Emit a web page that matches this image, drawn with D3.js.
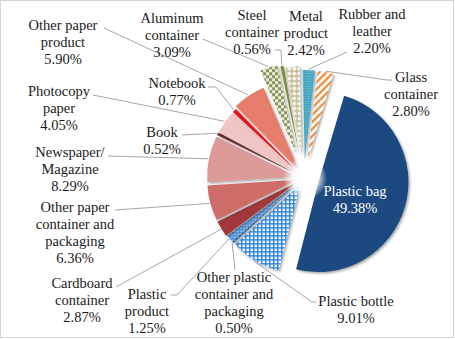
<!DOCTYPE html>
<html>
<head>
<meta charset="utf-8">
<title></title>
<style>
body { margin: 0; background: #fff; }
path.leader {
  fill: none;
  stroke: #a6a6a6;
  stroke-width: 1px;
}
</style>
<script src="https://cdn.jsdelivr.net/npm/d3@7"></script>
</head>
<body>
<script>

// clockwise from 12 o'clock
var categories = ["Glass container", "Plastic bag", "Plastic bottle",
  "Other plastic container and packaging", "Plastic product", "Cardboard container",
  "Other paper container and packaging", "Newspaper/ Magazine", "Book",
  "Photocopy paper", "Notebook", "Other paper product", "Aluminum container",
  "Steel container", "Metal product", "Rubber and leather"];

var values = [2.80, 49.38, 9.01, 0.50, 1.25, 2.87, 6.36, 8.29, 0.52, 4.05, 0.77,
  5.90, 3.09, 0.56, 2.42, 2.20];

var labelLines = [["Glass", "container"], ["Plastic bag"], ["Plastic bottle"],
  ["Other plastic", "container and", "packaging"], ["Plastic", "product"],
  ["Cardboard", "container"], ["Other paper", "container and", "packaging"],
  ["Newspaper/", "Magazine"], ["Book"], ["Photocopy", "paper"], ["Notebook"],
  ["Other paper", "product"], ["Aluminum", "container"], ["Steel", "container"],
  ["Metal", "product"], ["Rubber and", "leather"]];

var width = 455,
    height = 339,
    cx = 304, cy = 178,
    radius = 90,
    lineH = 17;

// how far each slice is pulled out
var explode = {
  "Glass container": 18, "Plastic bag": 15, "Plastic bottle": 6,
  "Other plastic container and packaging": 6, "Plastic product": 6,
  "Cardboard container": 7, "Other paper container and packaging": 7,
  "Newspaper/ Magazine": 7, "Book": 7, "Photocopy paper": 7, "Notebook": 7,
  "Other paper product": 9, "Aluminum container": 26, "Steel container": 24,
  "Metal product": 22, "Rubber and leather": 18
};

// label block: centre x, first baseline, leader start
var labelLayout = {
  "Glass container": {x: 411, y: 82, lead: [392, 80], stub: -5},
  "Plastic bag": {x: 355, y: 196, white: true},
  "Plastic bottle": {x: 356, y: 306, lead: [316, 302], stub: -4},
  "Other plastic container and packaging": {x: 234, y: 282, lead: [235, 270], stub: 0},
  "Plastic product": {x: 147, y: 299, lead: [171, 295], stub: 6},
  "Cardboard container": {x: 82, y: 288, lead: [116, 287], stub: 0},
  "Other paper container and packaging": {x: 75, y: 212, lead: [115, 210], stub: 0},
  "Newspaper/ Magazine": {x: 70, y: 157, lead: [108, 156], stub: 0},
  "Book": {x: 162, y: 137, lead: [182, 135], stub: 0},
  "Photocopy paper": {x: 59, y: 96, lead: [93, 95], stub: 0},
  "Notebook": {x: 177, y: 88, lead: [208, 87], stub: 8},
  "Other paper product": {x: 63, y: 30, lead: [104, 28], stub: 0},
  "Aluminum container": {x: 172, y: 23, lead: [203, 39], stub: 0},
  "Steel container": {x: 252, y: 20, lead: [275, 50], stub: 6},
  "Metal product": {x: 306, y: 21},
  "Rubber and leather": {x: 372, y: 19, lead: [347, 52], stub: 0}
};

var data = categories.map(function(c, i) {
  return {name: c, value: values[i], lines: labelLines[i]};
});

var svg = d3.select("body").append("svg")
    .attr("width", width)
    .attr("height", height);

var defs = svg.append("defs");

function makePattern(id, w, h, bg, transform) {
  var p = defs.append("pattern")
      .attr("id", id)
      .attr("patternUnits", "userSpaceOnUse")
      .attr("width", w)
      .attr("height", h);
  if (transform) p.attr("patternTransform", transform);
  p.append("rect").attr("width", w).attr("height", h).attr("fill", bg);
  return p;
}

// plastic bottle: blue grid
makePattern("p-grid", 4, 4, "#ffffff")
  .append("path")
  .attr("d", "M0,0.75H4M0.75,0V4")
  .attr("stroke", "#2f86dd")
  .attr("stroke-width", 1.5);

// plastic product / other plastic: dotted blue
makePattern("p-dots", 3, 3, "#4d93d6")
  .append("circle").attr("cx", 1.5).attr("cy", 1.5).attr("r", 0.7).attr("fill", "#cfe3f6");

// aluminum: green checker
var chk = makePattern("p-check", 6, 6, "#eeeddf");
chk.append("rect").attr("width", 3).attr("height", 3).attr("fill", "#869556");
chk.append("rect").attr("x", 3).attr("y", 3).attr("width", 3).attr("height", 3).attr("fill", "#869556");

// metal product: beige lattice
makePattern("p-lattice", 5, 5, "#c3bc96")
  .append("circle").attr("cx", 2.5).attr("cy", 2.5).attr("r", 2).attr("fill", "#f7f5ec");

// rubber: teal speckle
makePattern("p-teal", 2.5, 2.5, "#45a6c2")
  .append("circle").attr("cx", 1.25).attr("cy", 1.25).attr("r", 0.45).attr("fill", "#a9dbe8");

// glass: orange diagonal stripes
makePattern("p-stripe", 5, 5, "#ffffff", "rotate(45)")
  .append("rect").attr("width", 2.2).attr("height", 5).attr("fill", "#ef8a34");

var fills = {
  "Glass container": "url(#p-stripe)",
  "Plastic bag": "#1d4a80",
  "Plastic bottle": "url(#p-grid)",
  "Other plastic container and packaging": "url(#p-dots)",
  "Plastic product": "url(#p-dots)",
  "Cardboard container": "#a2383a",
  "Other paper container and packaging": "#cd6c69",
  "Newspaper/ Magazine": "#dc9a98",
  "Book": "#7a2a2c",
  "Photocopy paper": "#f0c6c5",
  "Notebook": "#e8161a",
  "Other paper product": "#e57d6b",
  "Aluminum container": "url(#p-check)",
  "Steel container": "#7f8c3f",
  "Metal product": "url(#p-lattice)",
  "Rubber and leather": "url(#p-teal)"
};

var shadow = defs.append("filter")
    .attr("id", "shadow")
    .attr("x", "-20%").attr("y", "-20%")
    .attr("width", "140%").attr("height", "140%");
shadow.append("feDropShadow")
    .attr("dx", 1.5).attr("dy", 1.5)
    .attr("stdDeviation", 1.3)
    .attr("flood-color", "#000")
    .attr("flood-opacity", 0.35);

var glow = defs.append("radialGradient").attr("id", "glow");
glow.append("stop").attr("offset", "0%").attr("stop-color", "#fff").attr("stop-opacity", 1);
glow.append("stop").attr("offset", "55%").attr("stop-color", "#fff").attr("stop-opacity", 0.9);
glow.append("stop").attr("offset", "100%").attr("stop-color", "#fff").attr("stop-opacity", 0);

svg.append("rect")
    .attr("x", 0.5).attr("y", 0.5)
    .attr("width", width - 2).attr("height", height - 2)
    .attr("fill", "#fff")
    .attr("stroke", "#d4d4d4");

var start = 6.5 * Math.PI / 180;

var pie = d3.pie()
    .sort(null)
    .value(function(d) { return d.value; })
    .startAngle(start)
    .endAngle(start + 2 * Math.PI);

var arc = d3.arc()
    .innerRadius(0)
    .outerRadius(radius);

var arcs = pie(data);

function apex(d) {
  var mid = (d.startAngle + d.endAngle) / 2,
      e = explode[d.data.name];
  return [cx + e * Math.sin(mid), cy - e * Math.cos(mid)];
}

// leader lines
var leaderData = arcs.filter(function(d) { return labelLayout[d.data.name].lead; });

svg.append("g")
  .selectAll("path")
  .data(leaderData)
  .enter()
  .append("path")
  .attr("class", "leader")
  .attr("d", function(d) {
    var lay = labelLayout[d.data.name],
        mid = (d.startAngle + d.endAngle) / 2,
        a = apex(d),
        end = [a[0] + (radius + 1) * Math.sin(mid), a[1] - (radius + 1) * Math.cos(mid)];
    return d3.line()([lay.lead, [lay.lead[0] + lay.stub, lay.lead[1]], end]);
  });

var slice = svg.append("g")
  .selectAll("path")
  .data(arcs)
  .enter()
  .append("path")
  .attr("transform", function(d) {
    var a = apex(d);
    return "translate(" + a[0] + "," + a[1] + ")";
  })
  .attr("d", arc)
  .attr("fill", function(d) { return fills[d.data.name]; })
  .attr("filter", "url(#shadow)");

// soft white centre
svg.append("circle")
    .attr("cx", cx + 1)
    .attr("cy", cy)
    .attr("r", 22)
    .attr("fill", "url(#glow)");

// labels, one text element per line
var fmt = function(v) { return d3.format(".2f")(v) + "%"; };

var labelRows = [];
arcs.forEach(function(d) {
  var lay = labelLayout[d.data.name],
      lines = d.data.lines.concat([fmt(d.data.value)]);
  lines.forEach(function(l, i) {
    labelRows.push({text: l, x: lay.x, y: lay.y + i * lineH, white: lay.white});
  });
});

svg.append("g")
  .selectAll("text")
  .data(labelRows)
  .enter()
  .append("text")
  .attr("x", function(d) { return d.x; })
  .attr("y", function(d) { return d.y; })
  .attr("text-anchor", "middle")
  .attr("font-family", "Liberation Serif")
  .attr("font-size", 14.5)
  .attr("fill", function(d) { return d.white ? "#ffffff" : "#1a1a1a"; })
  .text(function(d) { return d.text; });

</script>
</body>
</html>
